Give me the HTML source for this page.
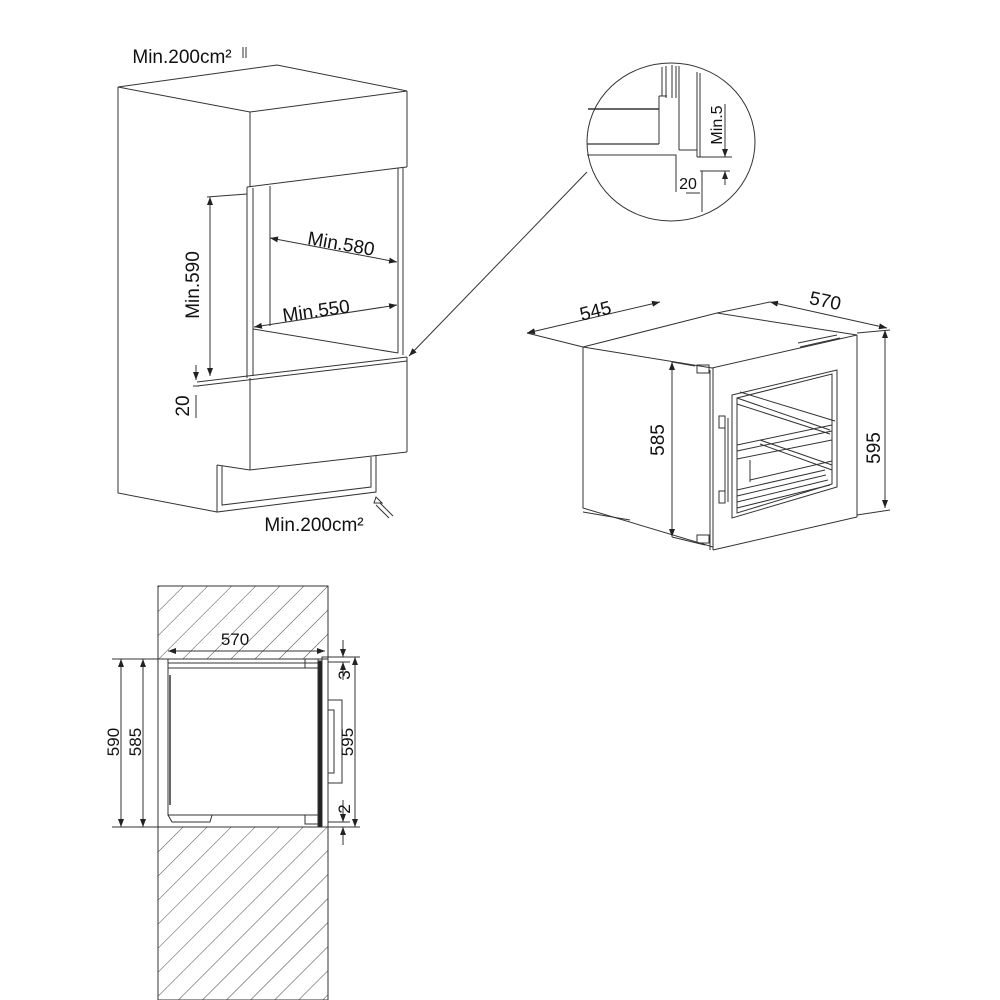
<!DOCTYPE html>
<html><head><meta charset="utf-8"><style>
html,body{margin:0;padding:0;background:#fff;}
svg{display:block;}
text{font-family:"Liberation Sans",Arial,sans-serif;fill:#111;}
</style></head><body>
<svg width="1000" height="1000" viewBox="0 0 1000 1000" xmlns="http://www.w3.org/2000/svg">
<defs>
<pattern id="h" patternUnits="userSpaceOnUse" width="17" height="17" patternTransform="rotate(45)">
<line x1="0" y1="0" x2="0" y2="17" stroke="#444" stroke-width="1"/>
</pattern>
<marker id="a" markerWidth="8" markerHeight="6" refX="8" refY="3" orient="auto" markerUnits="userSpaceOnUse"><path d="M0,0 L8,3 L0,6 z" fill="#222"/></marker>
<marker id="as" markerWidth="8" markerHeight="6" refX="0" refY="3" orient="auto" markerUnits="userSpaceOnUse"><path d="M8,0 L0,3 L8,6 z" fill="#222"/></marker>
</defs>
<g fill="none" stroke="#333" stroke-width="1">
<polygon points="118,87 277,65 407,91 250,112" />
<polyline points="118,87 118,493 217,512"/>
<line x1="250" y1="112" x2="250" y2="187"/>
<line x1="250" y1="378" x2="250" y2="470"/>
<line x1="407" y1="91" x2="407" y2="167"/>
<polyline points="407,167 398,168 247,187"/>
<line x1="398" y1="168" x2="398" y2="353"/>
<line x1="403" y1="168" x2="403" y2="355"/>
<line x1="247" y1="187" x2="247" y2="378"/>
<line x1="253" y1="188" x2="253" y2="376"/>
<line x1="270" y1="186" x2="270" y2="326"/>
<line x1="253" y1="329" x2="398" y2="353"/>
<line x1="197" y1="382" x2="407" y2="357"/>
<line x1="197" y1="386" x2="407" y2="361"/>
<line x1="407" y1="357" x2="407" y2="452"/>
<line x1="407" y1="452" x2="250" y2="470"/>
<polyline points="217,465 217,512 376,492 376,455"/>
<polyline points="222,466 222,505 371,487 371,457"/>
<polyline points="217,465 250,470"/>
<line x1="207" y1="197" x2="247" y2="194"/>
<line x1="210" y1="197" x2="210" y2="376" marker-start="url(#as)" marker-end="url(#a)"/>
<line x1="196" y1="365" x2="196" y2="380" marker-end="url(#a)"/>
<line x1="196" y1="395" x2="196" y2="418"/>
<line x1="193" y1="386" x2="199" y2="386"/>
<line x1="270" y1="238" x2="397" y2="262" marker-start="url(#as)" marker-end="url(#a)"/>
<line x1="254" y1="327" x2="397" y2="305" marker-start="url(#as)" marker-end="url(#a)"/>
<line x1="587" y1="172" x2="409" y2="356" marker-end="url(#a)"/>
<path d="M376,505 l13,13 M380,503 l13,13 M374,503 l8,0 l-6,-6 z"/>
<line x1="243" y1="47" x2="243" y2="58"/><line x1="246" y1="47" x2="246" y2="58"/>
<ellipse cx="671" cy="142" rx="84" ry="79"/>
<line x1="588" y1="109" x2="659" y2="109" stroke-width="1.6"/>
<line x1="587" y1="144" x2="659" y2="144" stroke-width="1.3"/>
<line x1="659" y1="96" x2="659" y2="144"/>
<line x1="659" y1="96" x2="667" y2="96"/>
<line x1="662" y1="67" x2="662" y2="96"/><line x1="666" y1="66" x2="666" y2="98"/>
<line x1="672" y1="65" x2="672" y2="98"/><line x1="679" y1="66" x2="679" y2="150"/>
<line x1="676" y1="66" x2="676" y2="98"/>
<line x1="679" y1="150" x2="697" y2="150"/>
<line x1="697" y1="72" x2="697" y2="157"/><line x1="700" y1="73" x2="700" y2="157"/>
<polyline points="587,155 676,155 676,192"/>
<line x1="697" y1="157" x2="732" y2="157"/>
<line x1="700" y1="171" x2="730" y2="171"/>
<line x1="702" y1="171" x2="702" y2="212"/>
<line x1="686" y1="193" x2="700" y2="193"/>
<line x1="725" y1="104" x2="725" y2="150"/>
<line x1="725" y1="150" x2="725" y2="157" marker-end="url(#a)"/>
<line x1="725" y1="185" x2="725" y2="171" marker-end="url(#a)"/>
<polygon points="583,347 717,313 857,335 712,368"/>
<polyline points="583,347 583,508 713,547"/>
<line x1="713" y1="368" x2="713" y2="550"/>
<line x1="710" y1="370" x2="710" y2="550"/>
<line x1="857" y1="335" x2="857" y2="517"/>
<line x1="713" y1="550" x2="857" y2="517"/>
<polygon points="732,395 837,370 837,487 732,518"/>
<polygon points="737,398 832,374 832,484 737,513"/>
<line x1="737" y1="398" x2="830" y2="430"/>
<line x1="737" y1="404" x2="830" y2="434"/>
<line x1="740" y1="392" x2="835" y2="421" />
<line x1="737" y1="445" x2="832" y2="425"/>
<line x1="737" y1="451" x2="832" y2="431"/>
<line x1="737" y1="459" x2="832" y2="440"/>
<line x1="760" y1="440" x2="832" y2="465"/>
<line x1="760" y1="444" x2="832" y2="470"/>
<line x1="750" y1="460" x2="750" y2="482"/>
<line x1="750" y1="480" x2="832" y2="461"/>
<line x1="737" y1="490" x2="825" y2="470"/><line x1="737" y1="496" x2="826" y2="475"/>
<line x1="737" y1="502" x2="828" y2="480"/><line x1="737" y1="508" x2="830" y2="485"/>
<rect x="719" y="416" width="6" height="12"/><rect x="719" y="491" width="6" height="12"/>
<line x1="725" y1="418" x2="725" y2="500"/><line x1="728" y1="418" x2="728" y2="502"/>
<line x1="672" y1="362" x2="695" y2="366"/>
<line x1="672" y1="362" x2="672" y2="537" marker-start="url(#as)" marker-end="url(#a)"/>
<line x1="672" y1="537" x2="705" y2="545"/>
<rect x="697" y="365" width="12" height="8"/><rect x="697" y="535" width="12" height="8"/>
<line x1="583" y1="512" x2="630" y2="520"/>
<line x1="798" y1="343" x2="837" y2="335"/><line x1="800" y1="347" x2="840" y2="338"/>
<line x1="527" y1="333" x2="660" y2="302" marker-start="url(#as)" marker-end="url(#a)"/>
<line x1="527" y1="333" x2="583" y2="347"/>
<line x1="770" y1="302" x2="887" y2="328" marker-start="url(#as)" marker-end="url(#a)"/>
<line x1="717" y1="313" x2="770" y2="302"/>
<line x1="857" y1="333" x2="890" y2="330"/>
<line x1="857" y1="515" x2="890" y2="510"/>
<line x1="885" y1="330" x2="885" y2="508" marker-start="url(#as)" marker-end="url(#a)"/>
<rect x="158" y="586" width="170" height="73" fill="url(#h)" stroke="#333"/>
<rect x="158" y="827" width="170" height="173" fill="url(#h)" stroke="#333"/>
<line x1="158" y1="586" x2="158" y2="1000"/><line x1="328" y1="586" x2="328" y2="659"/>
<line x1="112" y1="659" x2="322" y2="659"/>
<line x1="112" y1="827" x2="322" y2="827"/>
<line x1="168" y1="659" x2="168" y2="668"/>
<rect x="168" y="668" width="152" height="147" fill="#fff"/>
<line x1="170" y1="675" x2="170" y2="805" stroke-width="1.5"/>
<line x1="168" y1="663" x2="322" y2="663"/>
<rect x="305" y="659" width="13" height="9"/>
<rect x="318" y="661" width="4" height="166" fill="#222"/>
<rect x="322" y="657" width="6" height="170"/>
<rect x="328" y="700" width="14" height="83"/>
<rect x="328" y="710" width="6" height="63"/>
<polyline points="168,815 172,822 210,822 212,815"/>
<rect x="305" y="815" width="13" height="9"/>
<line x1="168" y1="651" x2="325" y2="651" marker-start="url(#as)" marker-end="url(#a)"/>
<line x1="121" y1="659" x2="121" y2="827" marker-start="url(#as)" marker-end="url(#a)"/>
<line x1="143" y1="659" x2="143" y2="827" marker-start="url(#as)" marker-end="url(#a)"/>
<line x1="328" y1="657" x2="360" y2="657"/>
<line x1="328" y1="827" x2="360" y2="827"/>
<line x1="328" y1="662" x2="350" y2="662"/><line x1="328" y1="822" x2="350" y2="822"/>
<line x1="355" y1="657" x2="355" y2="827" marker-start="url(#as)" marker-end="url(#a)"/>
<line x1="343" y1="640" x2="343" y2="657" marker-end="url(#a)"/>
<line x1="343" y1="680" x2="343" y2="662" marker-end="url(#a)"/>
<line x1="343" y1="800" x2="343" y2="822" marker-end="url(#a)"/>
<line x1="343" y1="845" x2="343" y2="827" marker-end="url(#a)"/>
</g>
<g font-size="19" text-anchor="middle">
<text x="182" y="63">Min.200cm²</text>
<text x="314" y="531">Min.200cm²</text>
<text transform="translate(199,285) rotate(-90)">Min.590</text>
<text transform="translate(189,406) rotate(-90)">20</text>
<text transform="translate(340,250) rotate(10)">Min.580</text>
<text transform="translate(317,317) rotate(-8)">Min.550</text>
<text font-size="16" transform="translate(722,125) rotate(-90)">Min.5</text>
<text x="688" y="189" font-size="16">20</text>
<text transform="translate(597,317) rotate(-14)">545</text>
<text transform="translate(824,307) rotate(12)">570</text>
<text transform="translate(664,440) rotate(-90)">585</text>
<text transform="translate(880,448) rotate(-90)">595</text>
</g>
<g font-size="17" text-anchor="middle">
<text x="235" y="645">570</text>
<text transform="translate(119,742) rotate(-90)">590</text>
<text transform="translate(141,742) rotate(-90)">585</text>
<text transform="translate(353,742) rotate(-90)">595</text>
<text transform="translate(350,675) rotate(-90)">3</text>
<text transform="translate(350,809) rotate(-90)">2</text>
</g>
</svg>
</body></html>
